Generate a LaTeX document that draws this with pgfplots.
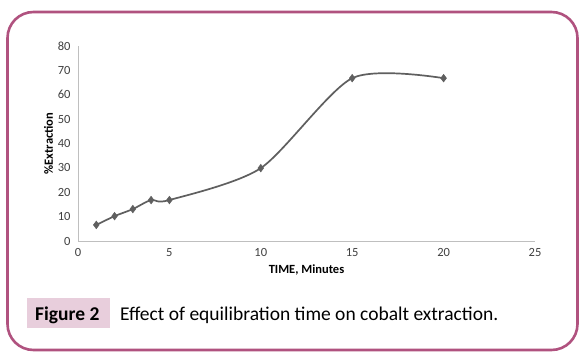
\documentclass[border=0pt]{standalone}
\usepackage{fontspec}
\setmainfont{Carlito}
\usepackage{pgfplots}
\pgfplotsset{compat=1.18}
\definecolor{frame}{HTML}{B0527F}
\definecolor{pinkbox}{HTML}{E8CEDC}
\definecolor{linegray}{HTML}{5F5F5F}
\definecolor{axgray}{HTML}{BFBFBF}
\definecolor{ticktext}{HTML}{404040}
\begin{document}
\begin{tikzpicture}[x=1pt,y=1pt]
\useasboundingbox (0pt,0pt) rectangle (586pt,359pt);
\fill[white] (0pt,0pt) rectangle (586pt,359pt);
\draw[frame, line width=2.6pt, rounded corners=26pt] (7.5pt,9pt) rectangle (577.5pt,347pt);
\fill[pinkbox] (27pt,31pt) rectangle (110pt,61pt);
\node[anchor=base west, font=\fontsize{19.5}{22}\selectfont\bfseries, inner sep=0pt] at (35pt,39pt) {Figure 2};
\node[anchor=base west, font=\fontsize{19.5}{22}\selectfont, inner sep=0pt] at (120pt,39pt) {Effect of equilibration time on cobalt extraction.};
\begin{axis}[
  at={(78pt,118pt)}, anchor=origin,
  scale only axis, width=457pt, height=195pt,
  xmin=0, xmax=25, ymin=0, ymax=80,
  xtick={0,5,...,25}, ytick={0,10,...,80},
  axis x line=bottom, axis y line=left,
  axis line style={-, axgray, line width=0.8pt},
  major tick length=0pt,
  tick label style={font=\fontsize{12.5}{14}\selectfont, text=ticktext},
  /pgf/number format/assume math mode=true,
  xtick style={draw=none}, ytick style={draw=none},
  xticklabel style={yshift=-4pt},
  yticklabel style={xshift=-4pt},
  xlabel={TIME, Minutes}, ylabel={\%Extraction},
  label style={font=\fontsize{12.5}{14}\selectfont\bfseries},
  xlabel style={yshift=-1pt},
  ylabel style={yshift=-2pt},
  clip=false,
]
\addplot[linegray, line width=1.7pt, smooth, tension=0.45, mark=diamond*, mark size=3.8pt, mark options={fill=linegray, draw=linegray, line width=0.5pt}]
coordinates {(1,6.6) (2,10.2) (3,13.1) (4,16.8) (5,16.8) (10,29.9) (15,66.8) (20,66.8)};
\end{axis}
\end{tikzpicture}
\end{document}
